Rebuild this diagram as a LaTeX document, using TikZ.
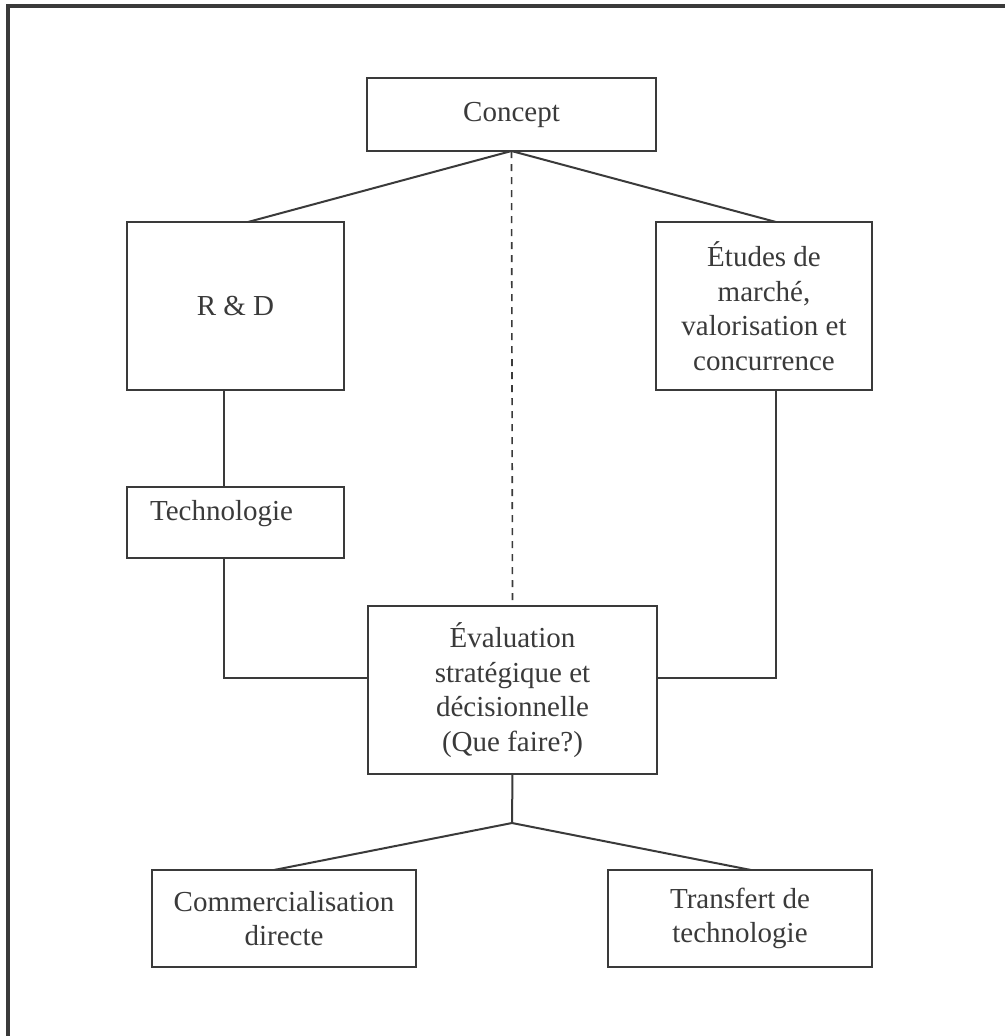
\documentclass[tikz,border=0pt]{standalone}
\usepackage{fontspec}
\setmainfont{Liberation Serif}
\usetikzlibrary{calc}
\definecolor{ink}{RGB}{58,58,58}
\begin{document}
\begin{tikzpicture}[x=1pt,y=-1pt,
  box/.style={draw=ink, line width=2pt, inner sep=0pt, outer sep=0pt, align=center,
    text=ink, font=\fontsize{29}{34.5}\selectfont},
  lbl/.style={inner sep=0pt, text=ink, font=\fontsize{29}{34.5}\selectfont},
  conn/.style={draw=ink, line width=2pt},
  dconn/.style={draw=ink, line width=1.6pt, dash pattern=on 7pt off 6pt}]
\useasboundingbox (0,0) rectangle (1005,1036);
\fill[white] (0,0) rectangle (1005,1036);
\draw[ink, line width=4pt] (8,1036) -- (8,6.3) -- (1005,6.3);

\node[box, minimum width=289pt, minimum height=73pt] (concept) at (511.5,114.5) {Concept};
\node[box, minimum width=217pt, minimum height=168pt] (rd) at (235.5,306) {R \& D};
\node[box, minimum width=216pt, minimum height=168pt] (etudes) at (764,306)
  {Études de\\marché,\\valorisation et\\concurrence};
\node[box, minimum width=217pt, minimum height=71pt] (tech) at (235.5,522.5) {};
\node[lbl] (techtext) at (221.5,514) {Technologie};
\node[box, minimum width=289pt, minimum height=168pt] (eval) at (512.5,690)
  {Évaluation\\stratégique et\\décisionnelle\\(Que faire?)};
\node[box, minimum width=264pt, minimum height=97pt] (comm) at (284,918.5)
  {Commercialisation\\directe};
\node[box, minimum width=264pt, minimum height=97pt] (trans) at (740,918.5)
  {Transfert de\\technologie};

\coordinate (fork) at (512,823);

\draw[conn] (concept.south) -- ([xshift=12.5pt]rd.north);
\draw[conn] (concept.south) -- ([xshift=12pt]etudes.north);
\draw[dconn] (concept.south) -- (eval.north);
\draw[conn] ([xshift=-11.5pt]rd.south) -- ([xshift=-11.5pt]tech.north);
\draw[conn] ([xshift=-11.5pt]tech.south) |- ([yshift=12pt]eval.west);
\draw[conn] ([xshift=12pt]etudes.south) |- ([yshift=12pt]eval.east);
\draw[conn] (eval.south) -- (fork);
\draw[conn] (fork) -- ([xshift=-10pt]comm.north);
\draw[conn] (fork) -- ([xshift=11pt]trans.north);
\end{tikzpicture}
\end{document}
